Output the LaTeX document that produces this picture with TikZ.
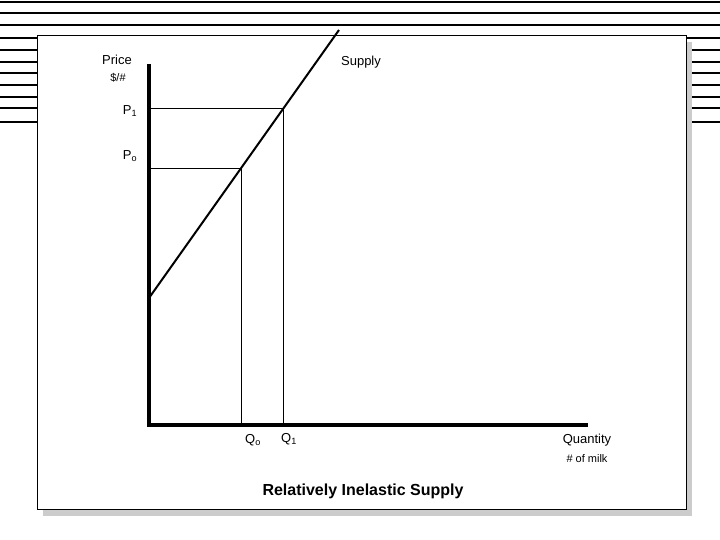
\documentclass[tikz,border=0pt]{standalone}
\usepackage{fontspec}
\setmainfont{Liberation Sans}
\begin{document}
\begin{tikzpicture}[x=1pt,y=-1pt,
  stripe/.style={line width=2.2pt},
  lbl/.style={inner sep=0pt,font=\fontsize{13}{15}\selectfont},
  sm/.style={inner sep=0pt,font=\fontsize{11}{13}\selectfont}]
\useasboundingbox (0,0) rectangle (720,540);
\foreach \y in {2,13,25,38,50,62,73,85,97,108,122} \draw[stripe] (0,\y) -- (720,\y);
\fill[gray!40] (43,42) rectangle (692,516);
\draw[fill=white,line width=1pt] (37,36) rectangle (686,509);
\coordinate (O) at (149,425);
\coordinate (Ytop) at (149,64);
\coordinate (Xend) at (588,425);
\draw[line width=3.5pt] (Ytop) -- (O) -- (Xend);
\coordinate (S0) at (149,298);
\coordinate (S1) at (339,30);
\draw[line width=2pt] (S0) -- (S1);
\coordinate (A1) at (283.7,108);
\coordinate (A0) at (241.2,168);
\draw[line width=0.6pt] (149,108) -- (A1) -- (283.7,425);
\draw[line width=0.6pt] (149,168) -- (A0) -- (241.2,425);
\node[lbl] (price) at (117,60) {Price};
\node[sm] (unit) at (118,78) {\$/\#};
\node[lbl] (p1) at (130,111) {P\textsubscript{1}};
\node[lbl] (p0) at (130,156) {P\textsubscript{o}};
\node[lbl] (sup) at (361,62) {Supply};
\node[lbl] (q0) at (253,440) {Q\textsubscript{o}};
\node[lbl] (q1) at (289,439) {Q\textsubscript{1}};
\node[lbl] (qty) at (587,440) {Quantity};
\node[sm] (milk) at (587,459) {\# of milk};
\node[inner sep=0pt,font=\fontsize{16}{18}\selectfont\bfseries] (title) at (363,491) {Relatively Inelastic Supply};
\end{tikzpicture}
\end{document}
